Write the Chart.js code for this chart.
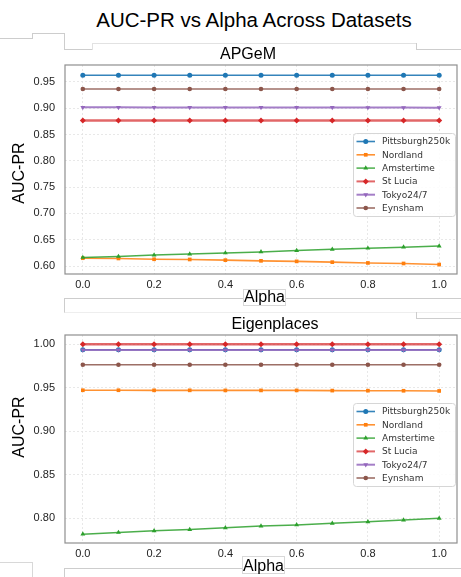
<!DOCTYPE html>
<html><head><meta charset="utf-8">
<script src="https://cdn.jsdelivr.net/npm/chart.js@4.4.1/dist/chart.umd.min.js"></script>
<style>
html,body{margin:0;padding:0;background:#fff;width:461px;height:577px;overflow:hidden;position:relative;font-family:'Liberation Sans',Arial,sans-serif;}
.t{position:absolute;white-space:nowrap;line-height:1;color:#000;transform:translate(-50%,-50%);}
.ln{position:absolute;border-color:#cdcdcd;border-style:solid;border-width:0;box-sizing:border-box;}
.cw{position:absolute;left:0;width:461px;}
</style></head><body>

<!-- faint frame artifacts of the original picture -->
<div class="ln" style="left:0;top:38px;width:33px;height:1px;border-top-width:1px;"></div>
<div class="ln" style="left:32px;top:33px;width:33px;height:6px;border-top-width:1px;border-left-width:1px;"></div>
<div class="ln" style="left:64px;top:33px;width:29px;height:17px;border-left-width:1px;border-bottom-width:1px;"></div>
<div class="ln" style="left:92px;top:43px;width:325px;height:7px;border-top-width:1px;border-left-width:1px;border-color:#e2e2e2;"></div>
<div class="ln" style="left:416px;top:43px;width:45px;height:7px;border-left-width:1px;border-bottom-width:1px;"></div>

<div class="ln" style="left:64px;top:298px;width:397px;height:15px;border-top-width:1px;border-left-width:1px;border-bottom-width:1px;border-bottom-color:#eeeeee;"></div>
<div class="ln" style="left:416px;top:312px;width:45px;height:7px;border-left-width:1px;border-bottom-width:1px;"></div>
<div class="ln" style="left:243px;top:289px;width:43px;height:17px;border-width:1px;border-color:#d8d8d8;background:#fff;"></div>

<div class="ln" style="left:0;top:562px;width:33px;height:15px;border-top-width:1px;border-right-width:1px;border-color:#d8d8d8;"></div>
<div class="ln" style="left:64px;top:568px;width:397px;height:9px;border-top-width:1px;border-left-width:1px;"></div>
<div class="ln" style="left:242px;top:556px;width:43px;height:18px;border-width:1px;border-color:#d8d8d8;background:#fff;"></div>

<div class="cw" style="top:61px;height:233px;"><canvas id="c1"></canvas></div>
<div class="cw" style="top:331px;height:232px;"><canvas id="c2"></canvas></div>

<div class="t" style="left:254px;top:20px;font-size:20.5px;">AUC-PR vs Alpha Across Datasets</div>
<div class="t" style="left:248px;top:54px;font-size:16px;">APGeM</div>
<div class="t" style="left:275px;top:323.5px;font-size:16px;">Eigenplaces</div>
<div class="t" style="left:264.5px;top:297px;font-size:16px;">Alpha</div>
<div class="t" style="left:263.5px;top:565.5px;font-size:16px;">Alpha</div>
<div class="t" style="left:18.5px;top:173px;font-size:16px;transform:translate(-50%,-50%) rotate(-90deg);">AUC-PR</div>
<div class="t" style="left:18.5px;top:427px;font-size:16px;transform:translate(-50%,-50%) rotate(-90deg);">AUC-PR</div>

<script>
// ---- data ----
const alphas = [0.0, 0.1, 0.2, 0.3, 0.4, 0.5, 0.6, 0.7, 0.8, 0.9, 1.0];
const datasetNames = ['Pittsburgh250k', 'Nordland', 'Amstertime', 'St Lucia', 'Tokyo24/7', 'Eynsham'];

// APGeM
const apgemPittsburgh = [0.9626, 0.9626, 0.9626, 0.9626, 0.9626, 0.9626, 0.9626, 0.9626, 0.9626, 0.9626, 0.9626];
const apgemNordland   = [0.6150, 0.6145, 0.6130, 0.6126, 0.6113, 0.6100, 0.6090, 0.6075, 0.6060, 0.6050, 0.6030];
const apgemAmstertime = [0.6164, 0.6183, 0.6210, 0.6230, 0.6250, 0.6270, 0.6296, 0.6320, 0.6340, 0.6360, 0.6380];
const apgemStLucia    = [0.8766, 0.8766, 0.8766, 0.8766, 0.8766, 0.8766, 0.8766, 0.8766, 0.8766, 0.8766, 0.8766];
const apgemTokyo      = [0.9016, 0.9016, 0.9015, 0.9015, 0.9014, 0.9014, 0.9013, 0.9013, 0.9012, 0.9011, 0.9010];
const apgemEynsham    = [0.9364, 0.9364, 0.9364, 0.9364, 0.9364, 0.9364, 0.9364, 0.9364, 0.9364, 0.9364, 0.9364];

// Eigenplaces
const eigenPittsburgh = [0.9937, 0.9937, 0.9937, 0.9937, 0.9937, 0.9937, 0.9937, 0.9937, 0.9937, 0.9937, 0.9937];
const eigenNordland   = [0.9472, 0.9472, 0.9471, 0.9471, 0.9470, 0.9470, 0.9470, 0.9468, 0.9467, 0.9466, 0.9464];
const eigenAmstertime = [0.7818, 0.7837, 0.7856, 0.7870, 0.7890, 0.7910, 0.7924, 0.7943, 0.7960, 0.7980, 0.8000];
const eigenStLucia    = [1.0000, 1.0000, 1.0000, 1.0000, 1.0000, 1.0000, 1.0000, 1.0000, 1.0000, 1.0000, 1.0000];
const eigenTokyo      = [0.9936, 0.9936, 0.9936, 0.9936, 0.9936, 0.9936, 0.9936, 0.9936, 0.9936, 0.9936, 0.9936];
const eigenEynsham    = [0.9765, 0.9765, 0.9765, 0.9765, 0.9765, 0.9765, 0.9765, 0.9765, 0.9765, 0.9765, 0.9765];

// ticks
const xTicks = [0.0, 0.2, 0.4, 0.6, 0.8, 1.0];
const yTicksApgem = [0.60, 0.65, 0.70, 0.75, 0.80, 0.85, 0.90, 0.95];
const yTicksEigen = [0.80, 0.85, 0.90, 0.95, 1.00];

// ---- styles ----
const seriesColors = ['#1f77b4', '#ff7f0e', '#2ca02c', '#d62728', '#9467bd', '#8c564b'];
const lineColors = ['rgba(31,119,180,0.9)', 'rgba(255,127,14,0.85)', 'rgba(44,160,44,0.85)', 'rgba(214,39,40,0.7)', 'rgba(148,103,189,0.85)', 'rgba(140,86,75,0.85)'];
const pointStyles = ['circle', 'rect', 'triangle', 'rectRot', 'triangle', 'circle'];
const pointRot = [0, 0, 0, 0, 180, 0];
const pointRad = [2.5, 2.6, 2.8, 3.0, 2.8, 2.3];
const lineWidths = [1.6, 1.6, 1.5, 2.6, 2.0, 1.6];

function makeDatasets(series) {
  return series.map((vals, i) => ({
    label: datasetNames[i],
    data: alphas.map((a, k) => ({x: a, y: vals[k]})),
    borderColor: lineColors[i],
    backgroundColor: seriesColors[i],
    pointBackgroundColor: seriesColors[i],
    pointBorderColor: seriesColors[i],
    pointBorderWidth: 0,
    pointStyle: pointStyles[i],
    pointRotation: pointRot[i],
    pointRadius: pointRad[i],
    borderWidth: lineWidths[i],
    tension: 0,
    order: 6 - i
  }));
}

const framePlugin = {
  id: 'frame',
  afterDraw(chart) {
    const {ctx, chartArea: a} = chart;
    ctx.save();
    ctx.strokeStyle = '#8f8f8f';
    ctx.lineWidth = 1.2;
    ctx.strokeRect(a.left, a.top, a.right - a.left, a.bottom - a.top);
    ctx.restore();
  }
};

const legendPlugin = {
  id: 'inLegend',
  afterDatasetsDraw(chart) {
    const {ctx, chartArea: a} = chart;
    const bx = a.right - 104, by = a.top + 68, bw = 102, bh = 83;
    ctx.save();
    ctx.fillStyle = 'rgba(255,255,255,0.85)';
    ctx.strokeStyle = '#d6d6d6';
    ctx.lineWidth = 1;
    ctx.beginPath();
    ctx.roundRect(bx + 0.5, by + 0.5, bw, bh, 3);
    ctx.fill();
    ctx.stroke();
    ctx.font = '9px "DejaVu Sans"';
    ctx.textBaseline = 'middle';
    ctx.textAlign = 'left';
    chart.data.datasets.forEach((ds, i) => {
      const y = by + 8.5 + i * 13.3;
      ctx.strokeStyle = ds.borderColor;
      ctx.lineWidth = Math.min(ds.borderWidth, 2);
      ctx.beginPath();
      ctx.moveTo(bx + 3.5, y);
      ctx.lineTo(bx + 22, y);
      ctx.stroke();
      ctx.fillStyle = ds.pointBackgroundColor;
      ctx.strokeStyle = ds.pointBackgroundColor;
      Chart.helpers.drawPoint(ctx, {pointStyle: ds.pointStyle, radius: ds.pointRadius, rotation: ds.pointRotation, borderWidth: 0}, bx + 12.75, y);
      ctx.fillStyle = '#333';
      ctx.fillText(ds.label, bx + 29, y + 0.5);
    });
    ctx.restore();
  }
};

function makeChart(id, series, yMin, yMax, yTicks) {
  return new Chart(document.getElementById(id), {
    type: 'line',
    data: {datasets: makeDatasets(series)},
    options: {
      responsive: true,
      maintainAspectRatio: false,
      devicePixelRatio: 1,
      animation: false,
      events: [],
      layout: {padding: {top: 2, right: 1, left: 0, bottom: 0}},
      plugins: {legend: {display: false}, tooltip: {enabled: false}, title: {display: false}},
      scales: {
        x: {
          type: 'linear', min: -0.05, max: 1.05,
          afterBuildTicks: s => { s.ticks = xTicks.map(v => ({value: v})); },
          afterFit: s => { s.height = 20; s.paddingLeft = 0; s.paddingRight = 0; },
          ticks: {padding: 4, color: '#222', font: {family: 'Liberation Sans', size: 11}, callback: v => v.toFixed(1), maxRotation: 0, autoSkip: false},
          grid: {color: '#e3e3e3', lineWidth: 0.8, drawTicks: false},
          border: {display: false, dash: [2, 2]}
        },
        y: {
          type: 'linear', min: yMin, max: yMax,
          afterBuildTicks: s => { s.ticks = yTicks.map(v => ({value: v})); },
          afterFit: s => { s.width = 65; s.paddingTop = 0; s.paddingBottom = 0; },
          ticks: {padding: 10, color: '#222', font: {family: 'Liberation Sans', size: 11}, callback: v => v.toFixed(2), autoSkip: false},
          grid: {color: '#e3e3e3', lineWidth: 0.8, drawTicks: false},
          border: {display: false, dash: [2, 2]}
        }
      }
    },
    plugins: [framePlugin, legendPlugin]
  });
}

makeChart('c1', [apgemPittsburgh, apgemNordland, apgemAmstertime, apgemStLucia, apgemTokyo, apgemEynsham], 0.585, 0.982, yTicksApgem);
makeChart('c2', [eigenPittsburgh, eigenNordland, eigenAmstertime, eigenStLucia, eigenTokyo, eigenEynsham], 0.7716, 1.0107, yTicksEigen);
</script>
</body></html>
